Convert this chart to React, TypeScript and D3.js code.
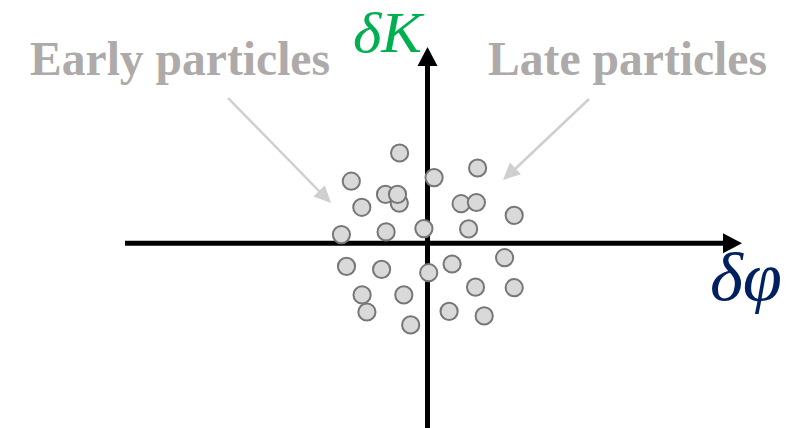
import React from "react";
import * as d3 from "d3";

// Particle offsets relative to the reference particle (arbitrary units)
const phaseOffsets = [
  -0.93, -2.54, 0.22, 1.67, -1.40, -0.94, -1.00, -2.19, 1.12, 1.63, 2.89, -2.87, -1.38, -0.12,
  1.37, -2.70, -1.53, 0.04, 0.82, 2.57, -2.18, -0.79, 1.60, 2.89, -2.02, 0.72, 1.89, -0.56,
];
const energyOffsets = [
  3.01, 2.07, 2.19, 2.51, 1.63, 1.34, 1.63, 1.20, 1.32, 1.36, 0.93, 0.29, 0.38, 0.49,
  0.48, -0.77, -0.87, -0.98, -0.69, -0.48, -1.72, -1.72, -1.46, -1.48, -2.29, -2.27, -2.42, -2.72,
];

const annotationLabels = ["Early particles", "Late particles"];
const axisLabels = ["δK", "δφ"];

const W = 786;
const H = 428;

export default function App() {
  const x = d3.scaleLinear().domain([-10, 10]).range([127.5, 727.5]);
  const y = d3.scaleLinear().domain([-10, 10]).range([543.3, -56.7]);

  const x0 = x(0);
  const y0 = y(0);

  const points = phaseOffsets.map((p, i) => ({ p, k: energyOffsets[i] }));

  const axisColor = "#000000";
  const labelGray = "#AEAAAA";
  const pointerGray = "#D0CECE";

  // Arrowhead polygon helper: tip point, direction vector, length, half-width
  const head = (tx: number, ty: number, fx: number, fy: number, len: number, hw: number) => {
    const dx = tx - fx;
    const dy = ty - fy;
    const d = Math.hypot(dx, dy);
    const ux = dx / d;
    const uy = dy / d;
    const bx = tx - ux * len;
    const by = ty - uy * len;
    return `${tx},${ty} ${bx - uy * hw},${by + ux * hw} ${bx + uy * hw},${by - ux * hw}`;
  };

  const early = { x1: 228, y1: 98, x2: 331, y2: 203 };
  const late = { x1: 589, y1: 99, x2: 503, y2: 180 };

  const serif = "'Liberation Serif', 'Times New Roman', serif";

  return (
    <svg
      width={W}
      height={H}
      style={{ position: "absolute", left: 0, top: 0, background: "#ffffff" }}
    >
      {/* horizontal axis */}
      <line x1={125} y1={y0} x2={724} y2={y0} stroke={axisColor} strokeWidth={5} />
      <polygon points={head(742, y0, 125, y0, 19, 10)} fill={axisColor} />
      {/* vertical axis */}
      <line x1={x0} y1={H} x2={x0} y2={64} stroke={axisColor} strokeWidth={5} />
      <polygon points={head(x0, 47, x0, H, 19, 10)} fill={axisColor} />

      {/* particles */}
      {points.map((d, i) => (
        <circle
          key={i}
          cx={x(d.p)}
          cy={y(d.k)}
          r={8.6}
          fill="#D9D9D9"
          stroke="#777777"
          strokeWidth={2}
        />
      ))}

      {/* annotations */}
      <text
        x={30}
        y={75}
        textLength={300}
        lengthAdjust="spacingAndGlyphs"
        fontFamily={serif}
        fontWeight="bold"
        fontSize={48}
        fill={labelGray}
      >
        {annotationLabels[0]}
      </text>
      <text
        x={488}
        y={75}
        textLength={279}
        lengthAdjust="spacingAndGlyphs"
        fontFamily={serif}
        fontWeight="bold"
        fontSize={48}
        fill={labelGray}
      >
        {annotationLabels[1]}
      </text>

      <line
        x1={early.x1}
        y1={early.y1}
        x2={early.x2 - 10}
        y2={early.y2 - 10}
        stroke={pointerGray}
        strokeWidth={2.5}
      />
      <polygon points={head(early.x2, early.y2, early.x1, early.y1, 17, 8)} fill={pointerGray} />
      <line
        x1={late.x1}
        y1={late.y1}
        x2={late.x2 + 10}
        y2={late.y2 - 9}
        stroke={pointerGray}
        strokeWidth={2.5}
      />
      <polygon points={head(late.x2, late.y2, late.x1, late.y1, 17, 8)} fill={pointerGray} />

      {/* axis labels */}
      <text
        x={353}
        y={52}
        textLength={69}
        lengthAdjust="spacingAndGlyphs"
        fontFamily={serif}
        fontStyle="italic"
        fontSize={58}
        fill="#00B050"
      >
        {axisLabels[0]}
      </text>
      <text
        x={710}
        y={300}
        textLength={72}
        lengthAdjust="spacingAndGlyphs"
        fontFamily={serif}
        fontStyle="italic"
        fontSize={68}
        fill="#002060"
      >
        {axisLabels[1]}
      </text>
    </svg>
  );
}
